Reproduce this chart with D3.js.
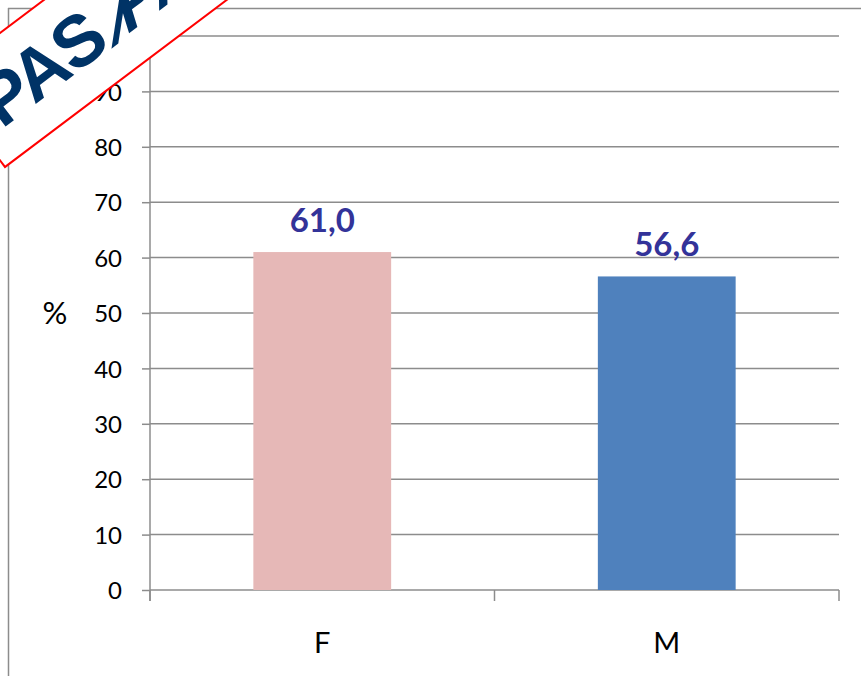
<!DOCTYPE html>
<html>
<head>
<meta charset="utf-8">
<script src="https://cdn.jsdelivr.net/npm/d3@7"></script>
<style>
  html, body { margin: 0; padding: 0; background: #fff; }
  svg { display: block; }
</style>
</head>
<body>
<svg id="chart" width="861" height="676"></svg>
<script>
// Share of respondents by sex (%)
const categories = ["F", "M"];
const values = [61.0, 56.6];
const barColors = ["#E6B8B7", "#4F81BD"];
const yTicks = [0, 10, 20, 30, 40, 50, 60, 70, 80, 90, 100];
const valueLabels = ["61,0", "56,6"];

const svg = d3.select("#chart");
const W = 861, H = 676;

const plot = { left: 150, right: 839, top: 36, bottom: 590 };

const y = d3.scaleLinear().domain([0, 100]).range([plot.bottom, plot.top]);
const x = d3.scaleBand()
  .domain(categories)
  .range([plot.left, plot.right])
  .paddingInner(0.6)
  .paddingOuter(0.3);
const step = x.step();

const gridColor = "#8c8c8c";
const font = "Lato, 'Open Sans', sans-serif";

// outer chart frame
svg.append("line").attr("x1", 8.5).attr("x2", 8.5).attr("y1", 8).attr("y2", H)
  .attr("stroke", gridColor).attr("stroke-width", 1.5);
svg.append("line").attr("x1", 8).attr("x2", W).attr("y1", 8.5).attr("y2", 8.5)
  .attr("stroke", gridColor).attr("stroke-width", 1.5);

// horizontal gridlines
svg.append("g").selectAll("line")
  .data(yTicks.filter(d => d > 0))
  .join("line")
  .attr("x1", plot.left).attr("x2", plot.right)
  .attr("y1", d => y(d)).attr("y2", d => y(d))
  .attr("stroke", gridColor).attr("stroke-width", 1.5);

// y axis
const yAxis = svg.append("g")
  .attr("transform", `translate(${plot.left},0)`)
  .call(d3.axisLeft(y).tickValues(yTicks).tickSize(8).tickPadding(20).tickFormat(d3.format("d")));
yAxis.select(".domain").attr("stroke", gridColor).attr("stroke-width", 1.5)
  .attr("d", `M0,${plot.top}V${plot.bottom + 11}`);
yAxis.selectAll(".tick line").attr("stroke", gridColor).attr("stroke-width", 1.5);
yAxis.selectAll(".tick text")
  .attr("font-family", font)
  .attr("font-size", 24).attr("fill", "#000").attr("dy", "0.36em");

// x axis with category boundary ticks
const xAxisG = svg.append("g").attr("transform", `translate(0,${plot.bottom})`);
xAxisG.append("line").attr("x1", plot.left).attr("x2", plot.right)
  .attr("y1", 0).attr("y2", 0).attr("stroke", gridColor).attr("stroke-width", 1.5);
const boundaries = d3.range(categories.length + 1).map(i => plot.left + i * step);
xAxisG.selectAll("line.tk").data(boundaries).join("line").attr("class", "tk")
  .attr("x1", d => d).attr("x2", d => d).attr("y1", 0).attr("y2", 11)
  .attr("stroke", gridColor).attr("stroke-width", 1.5);
xAxisG.selectAll("text").data(categories).join("text")
  .attr("x", d => x(d) + x.bandwidth() / 2)
  .attr("y", 63)
  .attr("text-anchor", "middle")
  .attr("font-family", font)
  .attr("font-size", 29).attr("fill", "#000")
  .text(d => d);

// bars
svg.append("g").selectAll("rect")
  .data(categories.map((c, i) => ({ c, v: values[i], color: barColors[i] })))
  .join("rect")
  .attr("x", d => x(d.c))
  .attr("width", x.bandwidth())
  .attr("y", d => y(d.v))
  .attr("height", d => y(0) - y(d.v))
  .attr("fill", d => d.color);

// value labels
svg.append("g").selectAll("text")
  .data(categories.map((c, i) => ({ c, v: values[i], t: valueLabels[i] })))
  .join("text")
  .attr("x", d => x(d.c) + x.bandwidth() / 2)
  .attr("y", d => y(d.v) - 20)
  .attr("text-anchor", "middle")
  .attr("font-family", font)
  .attr("font-weight", "bold")
  .attr("font-size", 33)
  .attr("fill", "#333399")
  .text(d => d.t);

// y axis title
svg.append("text")
  .attr("x", 55).attr("y", y(50) + 11)
  .attr("text-anchor", "middle")
  .attr("font-family", font)
  .attr("font-size", 31).attr("fill", "#000")
  .text("%");

// corner stamp
const stamp = svg.append("g").attr("transform", "translate(5,167) rotate(-37)");
stamp.append("rect")
  .attr("x", 0).attr("y", -110).attr("width", 420).attr("height", 110)
  .attr("fill", "#fff").attr("stroke", "#ff0000").attr("stroke-width", 2);
const stampStyle = sel => sel
  .attr("font-family", "'Liberation Sans', Arial, sans-serif")
  .attr("font-weight", "bold")
  .attr("font-size", 72)
  .attr("letter-spacing", -2)
  .attr("fill", "#003366");
const base = -32, x0 = 20;
const part1 = stamp.append("text").attr("x", x0).attr("y", base).call(stampStyle).text("PAS");
const w1 = part1.node().getComputedTextLength();
const slash = stamp.append("text")
  .attr("transform", `translate(${x0 + w1},${base}) skewX(-40)`)
  .call(stampStyle).text("/");
const w2 = slash.node().getComputedTextLength();
stamp.append("text")
  .attr("transform", `translate(${x0 + w1 + w2},${base}) skewX(-20)`)
  .call(stampStyle).text("PASSI");
</script>
</body>
</html>
